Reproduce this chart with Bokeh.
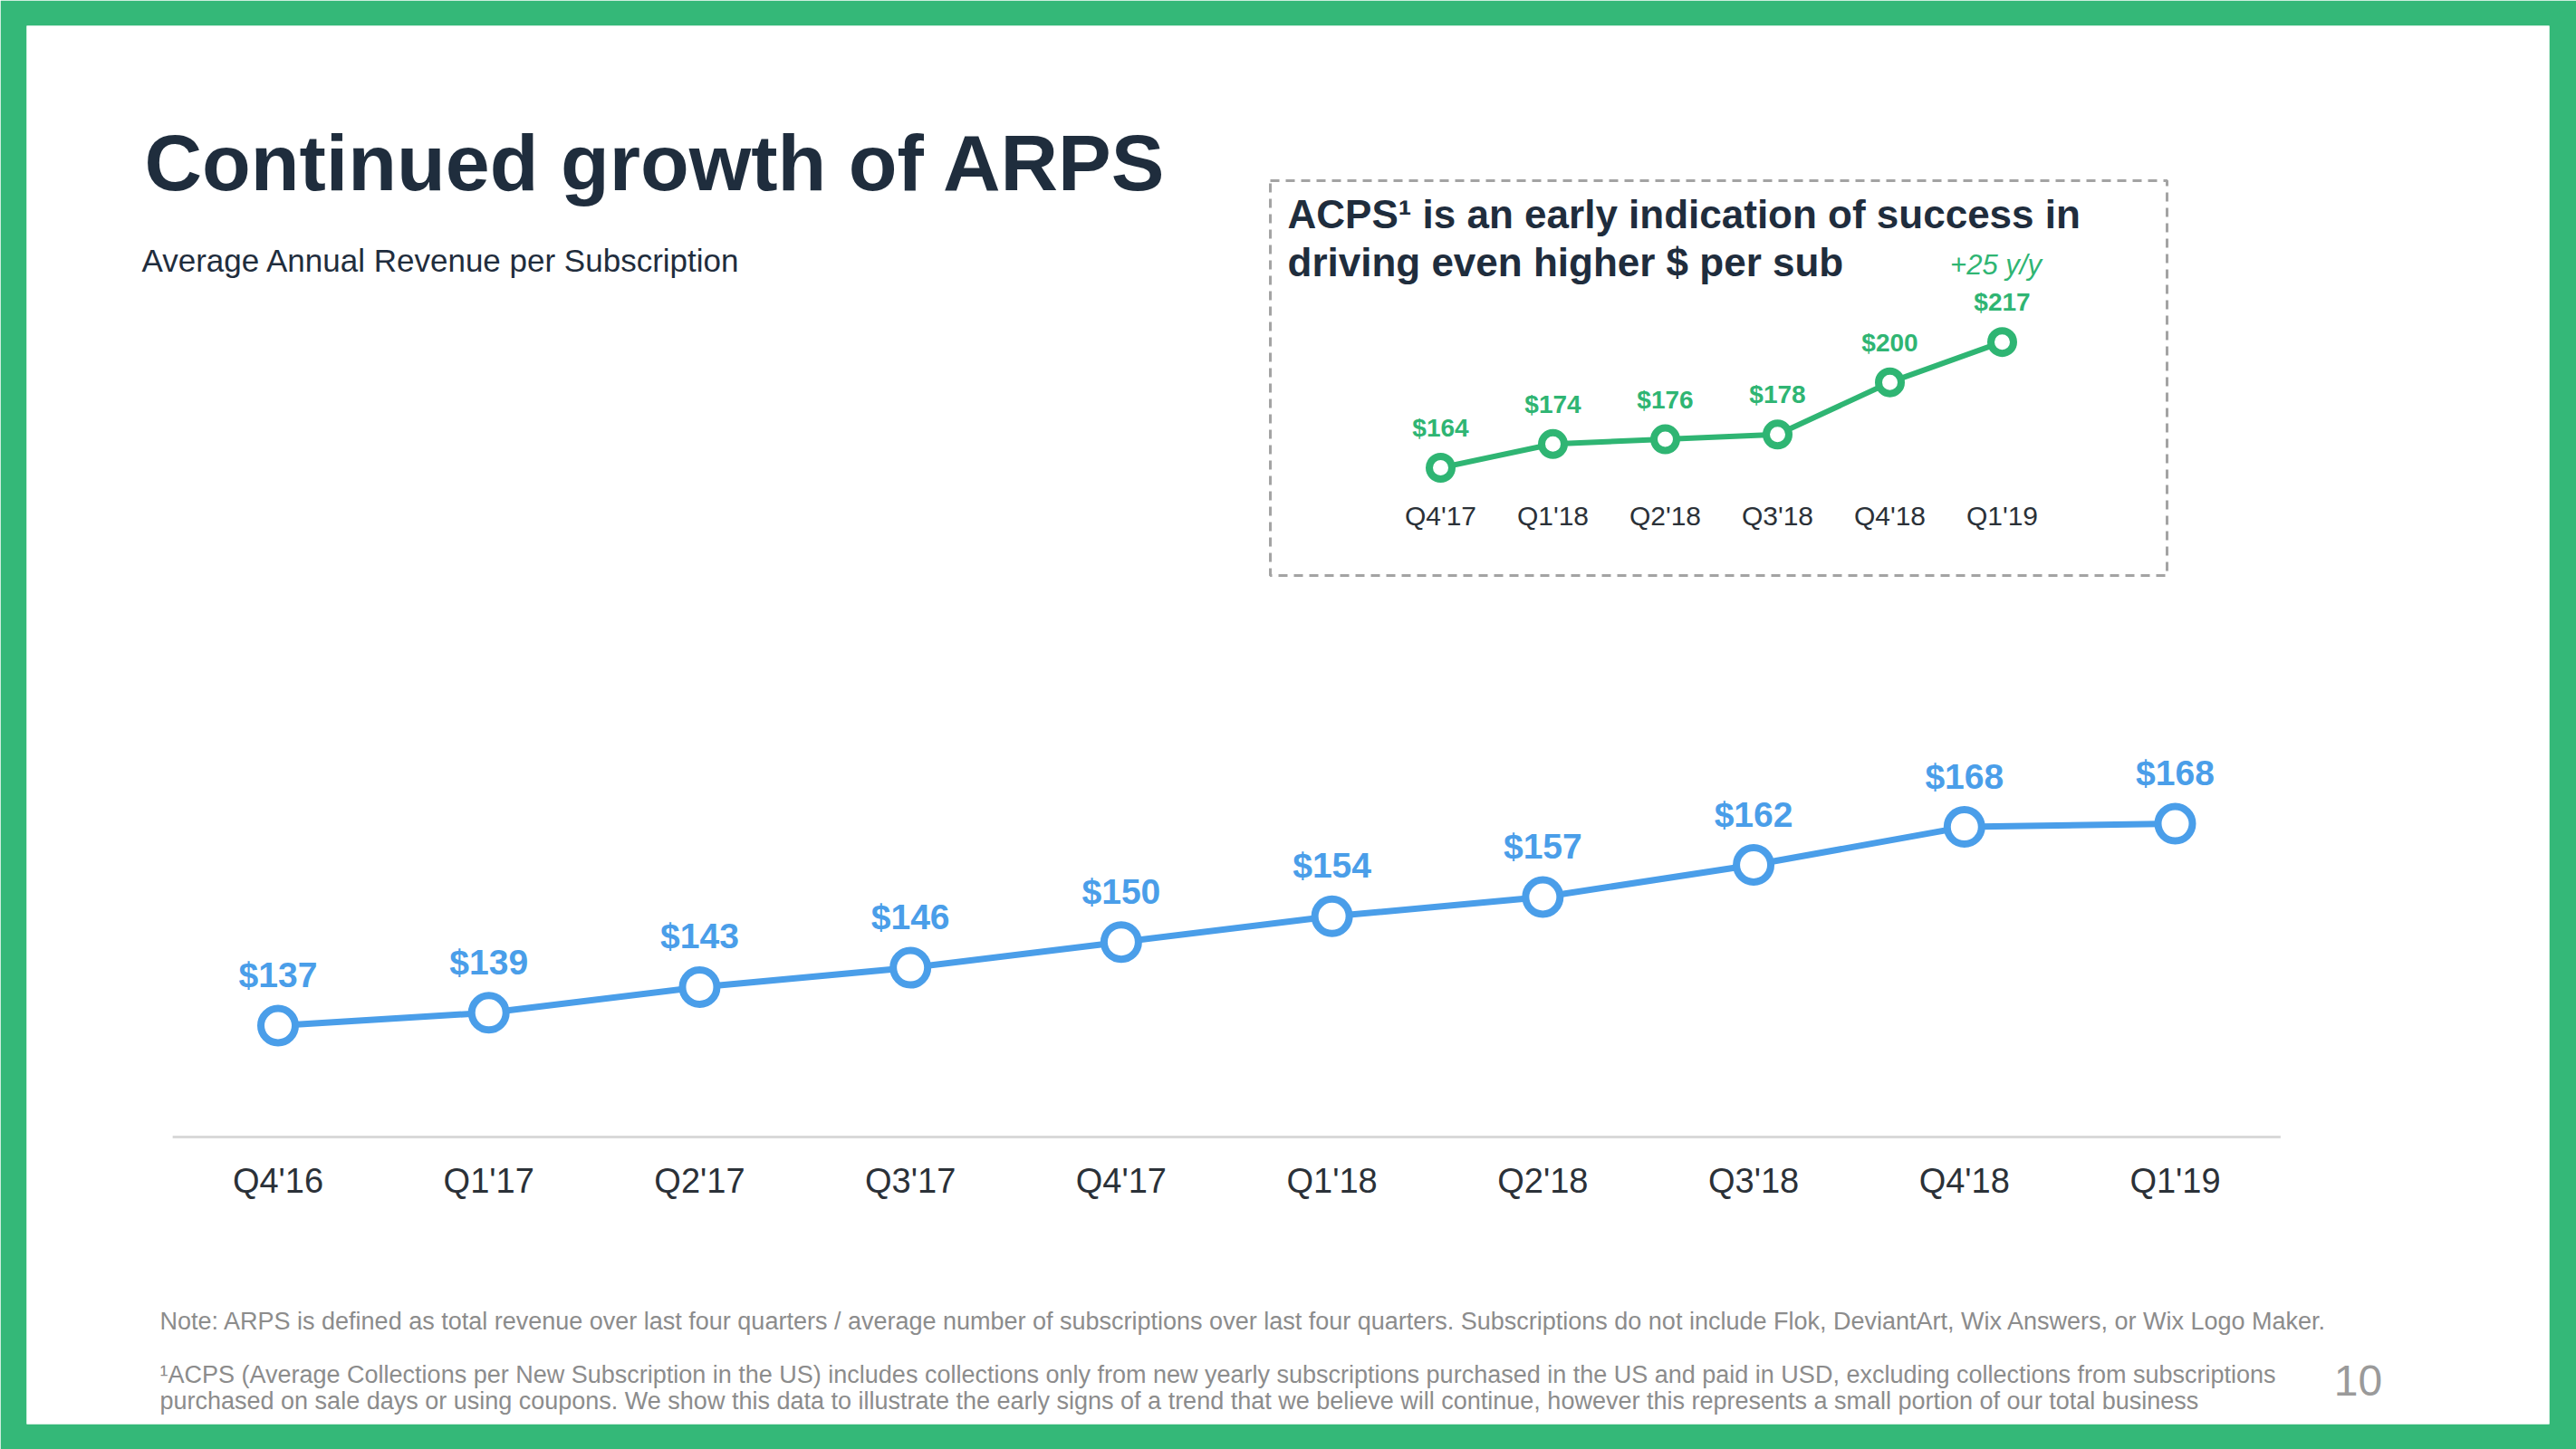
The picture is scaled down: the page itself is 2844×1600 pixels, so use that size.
from bokeh.plotting import figure
from bokeh.models import Range1d
from bokeh.embed import file_html
from bokeh.resources import INLINE
from bokeh.core.properties import value

# ---------------- data ----------------
quarters = ["Q4'16", "Q1'17", "Q2'17", "Q3'17", "Q4'17",
            "Q1'18", "Q2'18", "Q3'18", "Q4'18", "Q1'19"]
arps = [137, 139, 143, 146, 150, 154, 157, 162, 167.9, 168.4]

acps_quarters = ["Q4'17", "Q1'18", "Q2'18", "Q3'18", "Q4'18", "Q1'19"]
acps = [164, 174, 176, 178, 200, 217]

title = "Continued growth of ARPS"
subtitle = "Average Annual Revenue per Subscription"
inset_title = ["ACPS\u00b9 is an early indication of success in",
               "driving even higher $ per sub"]
inset_note = "+25 y/y"
note1 = ("Note: ARPS is defined as total revenue over last four quarters / average number of "
         "subscriptions over last four quarters. Subscriptions do not include Flok, DeviantArt, "
         "Wix Answers, or Wix Logo Maker.")
note2 = ["\u00b9ACPS (Average Collections per New Subscription in the US) includes collections only "
         "from new yearly subscriptions purchased in the US and paid in USD, excluding collections "
         "from subscriptions",
         "purchased on sale days or using coupons. We show this data to illustrate the early signs "
         "of a trend that we believe will continue, however this represents a small portion of our "
         "total business"]
page_no = "10"

# ---------------- styles ----------------
GREEN_BORDER = "#34b878"
GREEN = "#2fb573"
BLUE = "#4a9ee9"
DARK = "#1f2d3d"
TICK = "#2b3138"
GREY = "#8c8c8c"
FONT = value("Liberation Sans")

W, H = 2844, 1600
BL, BR, BT, BB = 29, 30, 28, 28
FX0, FX1 = BL, W - BR
FY0, FY1 = BT, H - BB


def off(size):
    # baseline correction (pixels, upward)
    return -round(0.37 * size)


def x_range_for(d0, p0, d1, p1):
    s = (p1 - p0) / (d1 - d0)
    return Range1d(d0 + (FX0 - p0) / s, d0 + (FX1 - p0) / s)


def y_range_for(v0, p0, k):
    return Range1d(v0 - (FY1 - p0) / k, v0 + (p0 - FY0) / k)


p = figure(width=W, height=H,
           x_range=Range1d(FX0, FX1), y_range=Range1d(FY1, FY0),
           output_backend="svg", toolbar_location=None,
           x_axis_location=None, y_axis_location=None,
           min_border_left=BL, min_border_right=BR,
           min_border_top=BT, min_border_bottom=BB)
p.grid.visible = False
p.outline_line_color = None
p.border_fill_color = GREEN_BORDER
p.background_fill_color = "white"

n = len(quarters)
m = len(acps)
p.extra_x_ranges = {"main": x_range_for(0, 306.5, n - 1, 2401),
                    "inset": x_range_for(0, 1590, m - 1, 2210)}
p.extra_y_ranges = {"main": y_range_for(137, 1132, 7.1),
                    "inset": y_range_for(164, 516, 2.62)}

idx = list(range(n))
idx_i = list(range(m))

# ---------------- header texts ----------------
p.text(x=[159], y=[212], text=[title], text_font=FONT, text_font_style="bold",
       text_font_size="88px", text_color=DARK, text_baseline="alphabetic", y_offset=off(88))
p.text(x=[156], y=[300], text=[subtitle], text_font=FONT,
       text_font_size="35px", text_color=DARK, text_baseline="alphabetic", y_offset=off(35))

# ---------------- inset box ----------------
p.quad(left=[1402], right=[2392], top=[199], bottom=[635], fill_color=None,
       line_color="#a3a3a3", line_width=3, line_dash="10 7")
p.text(x=[1421, 1421], y=[252, 305], text=inset_title, text_font=FONT,
       text_font_style="bold", text_font_size="44px", text_color=DARK,
       text_baseline="alphabetic", y_offset=off(44))
p.text(x=[2203], y=[303], text=[inset_note], text_font=FONT, text_font_style="italic",
       text_font_size="31px", text_color=GREEN, text_align="center",
       text_baseline="alphabetic", y_offset=off(31))

# inset series
p.line(x=idx_i, y=acps, x_range_name="inset", y_range_name="inset",
       line_color=GREEN, line_width=6)
p.scatter(x=idx_i, y=acps, x_range_name="inset", y_range_name="inset",
          marker="circle", size=25, fill_color="white", line_color=GREEN, line_width=8)
p.text(x=idx_i, y=acps, text=["$%d" % round(v) for v in acps],
       x_range_name="inset", y_range_name="inset", y_offset=-34 + off(28),
       text_font=FONT, text_font_style="bold", text_font_size="28px",
       text_color=GREEN, text_align="center", text_baseline="alphabetic")
p.text(x=idx_i, y=[580] * m, text=acps_quarters, x_range_name="inset",
       text_font=FONT, text_font_size="30px", text_color=TICK,
       text_align="center", text_baseline="alphabetic", y_offset=off(30))

# ---------------- main series ----------------
p.segment(x0=[-0.5], x1=[n - 0.5], y0=[1255], y1=[1255], x_range_name="main",
          line_color="#d9d9d9", line_width=3)
p.line(x=idx, y=arps, x_range_name="main", y_range_name="main",
       line_color=BLUE, line_width=7)
p.scatter(x=idx, y=arps, x_range_name="main", y_range_name="main",
          marker="circle", size=38, fill_color="white", line_color=BLUE, line_width=8)
p.text(x=idx, y=arps, text=["$%d" % round(v) for v in arps],
       x_range_name="main", y_range_name="main", y_offset=-42 + off(39),
       text_font=FONT, text_font_style="bold", text_font_size="39px",
       text_color=BLUE, text_align="center", text_baseline="alphabetic")
p.text(x=idx, y=[1317] * n, text=quarters, x_range_name="main",
       text_font=FONT, text_font_size="38px", text_color=TICK,
       text_align="center", text_baseline="alphabetic", y_offset=off(38))

# ---------------- footnotes ----------------
p.text(x=[176], y=[1468], text=[note1], text_font=FONT, text_font_size="27px",
       text_color=GREY, text_baseline="alphabetic", y_offset=off(27))
p.text(x=[176, 176], y=[1527, 1556], text=note2, text_font=FONT, text_font_size="27px",
       text_color=GREY, text_baseline="alphabetic", y_offset=off(27))
p.text(x=[2603], y=[1542], text=[page_no], text_font=FONT, text_font_size="48px",
       text_color="#9a9a9a", text_align="center", text_baseline="alphabetic",
       y_offset=off(48))

open("out.html", "w").write(file_html(p, INLINE))
